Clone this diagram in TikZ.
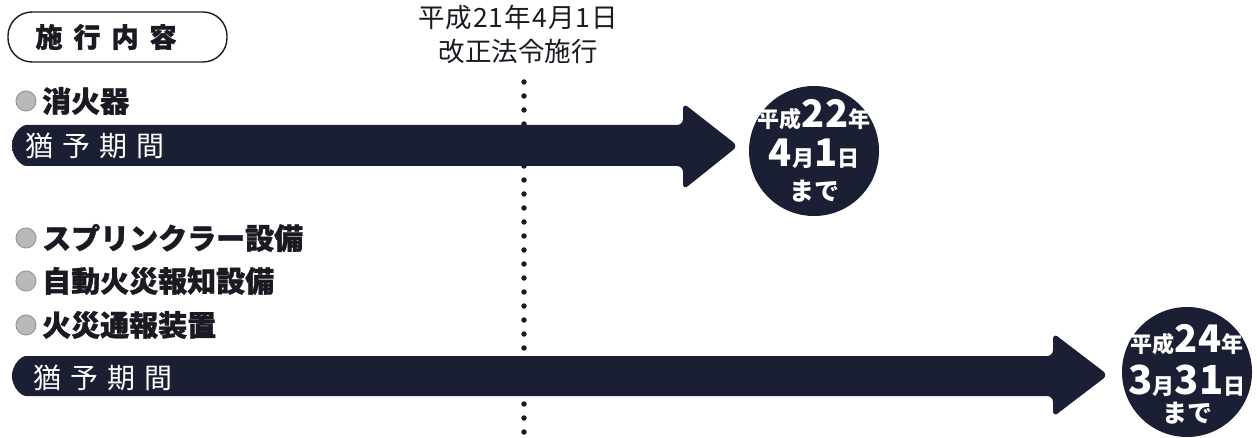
\documentclass[tikz,border=0pt]{standalone}
\usepackage{fontspec}
\setmainfont{Noto Sans CJK JP}
\definecolor{ink}{HTML}{1B1F33}
\definecolor{inkmid}{HTML}{4C5064}
\definecolor{txt}{HTML}{1A1A22}
\newcommand{\csmall}[1]{{\fontsize{22}{22}\selectfont\bfseries #1}}
\newcommand{\cbig}[1]{{\fontsize{38}{38}\selectfont\bfseries #1}}
\newcommand{\cbigger}[1]{{\fontsize{40}{40}\selectfont\bfseries #1}}
\tikzset{
  headerbox/.style={draw=txt, line width=1.4pt, rounded corners=24pt, minimum width=219pt, minimum height=50pt, inner sep=0},
  headertext/.style={inner sep=0, text=txt, font=\fontsize{27}{30}\selectfont\bfseries\addfontfeature{FakeBold=1.2}},
  toplabel/.style={inner sep=0, align=center, text=txt, font=\fontsize{26.5}{34}\selectfont},
  item/.style={anchor=west, inner sep=0, text=txt, font=\fontsize{29}{30}\selectfont\bfseries\addfontfeature{FakeBold=1.2}},
  bullet/.style={circle, fill=gray!55, draw=gray!80, line width=1pt, minimum size=20pt, inner sep=0},
  barlabel/.style={anchor=west, inner sep=0, text=white, font=\fontsize{28}{30}\selectfont},
  arrowshape/.style={left color=ink, middle color=inkmid, right color=ink, rounded corners=6pt},
  datecircle/.style={circle, fill=ink, minimum size=130pt, inner sep=0},
  circtext/.style={inner sep=0, text=white},
  dotline/.style={draw=txt, line width=5.5pt, line cap=round, dash pattern=on 0pt off 14pt}
}
\begin{document}
\begin{tikzpicture}[x=1pt,y=-1pt]
\useasboundingbox (0,0) rectangle (1257,438);
% header
\node[headerbox] (hdr) at (117.5,37) {};
\node[headertext] (hdrtext) at (106,37) {施\hspace{11pt}行\hspace{11pt}内\hspace{11pt}容};
% top label
\node[toplabel] (lbl) at (518,34) {{\addfontfeature{LetterSpace=4}平成21年4月1日}\\改正法令施行};
% dotted timeline
\coordinate (dtop) at (524,82);
\coordinate (dbot) at (524,436);
\draw[dotline] (dtop) -- (dbot);
% items
\node[bullet] (b1) at (26,101) {};
\node[item] (i1) at (42,101) {消火器};
\node[bullet] (b2) at (26,238) {};
\node[item] (i2) at (42,238) {スプリンクラー設備};
\node[bullet] (b3) at (26,281) {};
\node[item] (i3) at (42,281) {自動火災報知設備};
\node[bullet] (b4) at (26,325) {};
\node[item] (i4) at (42,325) {火災通報装置};
% arrow 1
\shade[arrowshape] (200,125) -- (683,125) -- (683,103) -- (738,146) -- (683,190) -- (683,166) -- (32.5,166) arc[start angle=90, end angle=270, radius=20.5] -- cycle;
\node[barlabel] (g1) at (25,146) {猶\hspace{9pt}予\hspace{9pt}期\hspace{9pt}間};
% arrow 2
\shade[arrowshape] (300,356) -- (1053,356) -- (1053,333) -- (1108,375) -- (1053,417) -- (1053,396) -- (32,396) arc[start angle=90, end angle=270, radius=20] -- cycle;
\node[barlabel] (g2) at (33,378) {猶\hspace{9pt}予\hspace{9pt}期\hspace{9pt}間};
% circle 1
\node[datecircle] (c1) at (814,151) {};
\node[circtext] (c1a) at ([yshift=36pt]c1.center) {\csmall{平成}\cbig{22}\csmall{年}};
\node[circtext] (c1b) at ([yshift=-3pt]c1.center) {\cbig{4}\csmall{月}\cbig{1}\csmall{日}};
\node[circtext] (c1c) at ([yshift=-40pt]c1.center) {{\fontsize{25}{25}\selectfont\bfseries まで}};
% circle 2
\node[datecircle] (c2) at (1187,372) {};
\node[circtext] (c2a) at ([yshift=32pt]c2.center) {\csmall{平成}\cbig{24}\csmall{年}};
\node[circtext] (c2b) at ([yshift=-9pt]c2.center) {\cbigger{3}\csmall{月}\cbigger{31}\csmall{日}};
\node[circtext] (c2c) at ([yshift=-41pt]c2.center) {{\fontsize{25}{25}\selectfont\bfseries まで}};
\end{tikzpicture}
\end{document}
